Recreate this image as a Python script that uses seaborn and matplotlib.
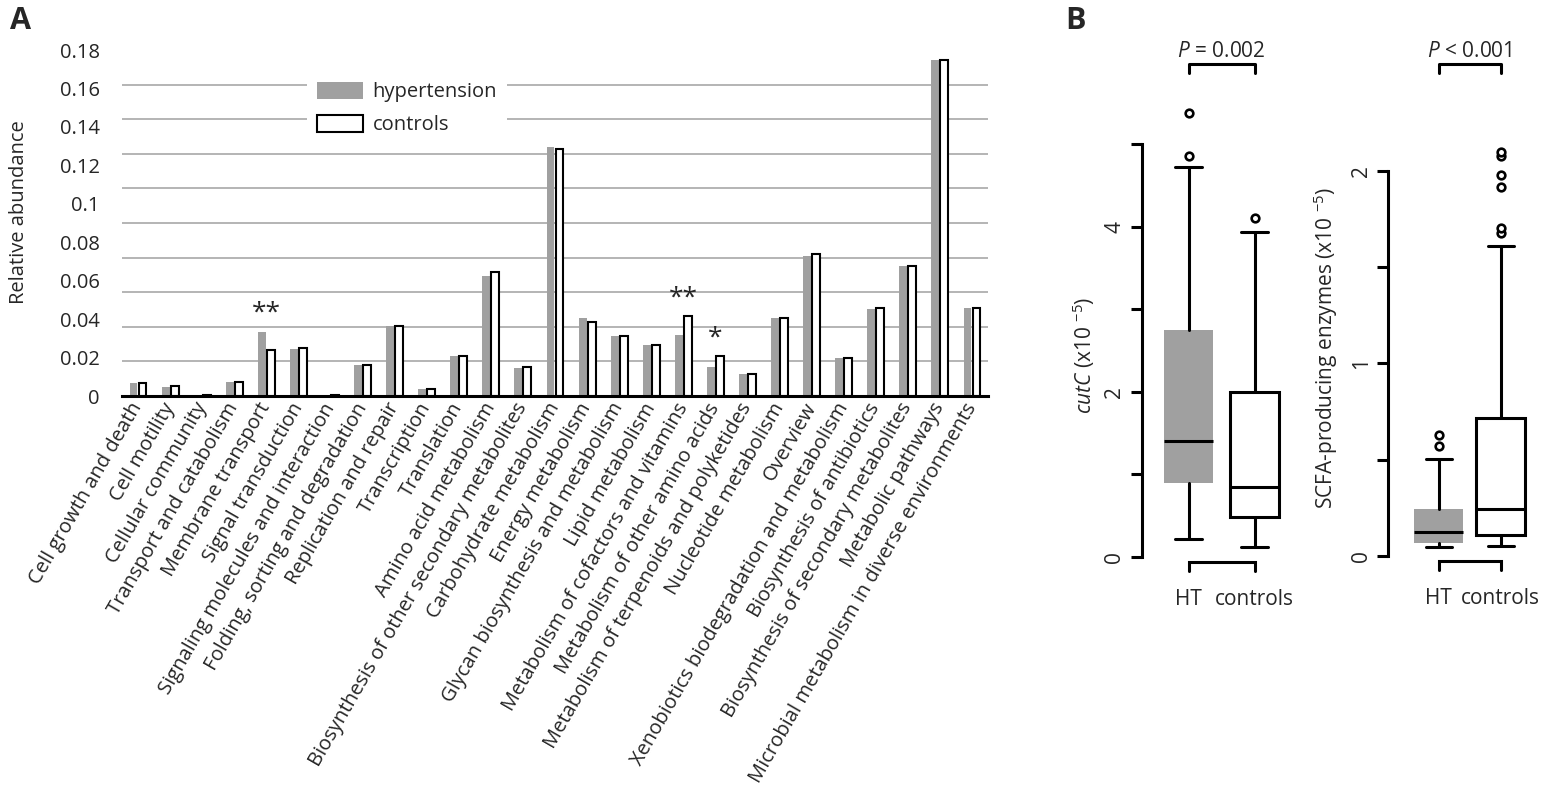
import numpy as np
import pandas as pd
import matplotlib
matplotlib.use('Agg')
import matplotlib.pyplot as plt
from matplotlib.patches import Patch
import seaborn as sns

# ---- data: panel A (KEGG level-2 pathways, relative abundance)
pathways = ['Cell growth and death', 'Cell motility', 'Cellular community',
            'Transport and catabolism', 'Membrane transport', 'Signal transduction',
            'Signaling molecules and interaction', 'Folding, sorting and degradation',
            'Replication and repair', 'Transcription', 'Translation',
            'Amino acid metabolism', 'Biosynthesis of other secondary metabolites',
            'Carbohydrate metabolism', 'Energy metabolism',
            'Glycan biosynthesis and metabolism', 'Lipid metabolism',
            'Metabolism of cofactors and vitamins', 'Metabolism of other amino acids',
            'Metabolism of terpenoids and polyketides', 'Nucleotide metabolism',
            'Overview', 'Xenobiotics biodegradation and metabolism',
            'Biosynthesis of antibiotics', 'Biosynthesis of secondary metabolites',
            'Metabolic pathways', 'Microbial metabolism in diverse environments']
hypertension = [0.0066, 0.0045, 0.0003, 0.0073, 0.0335, 0.0247, 0.0003, 0.0159,
                0.0362, 0.0035, 0.0206, 0.0624, 0.0146, 0.1296, 0.0404, 0.0314,
                0.0263, 0.0319, 0.0153, 0.0113, 0.0404, 0.0727, 0.0199, 0.0453,
                0.0674, 0.1748, 0.0456]
controls = [0.0070, 0.0052, 0.0003, 0.0075, 0.0239, 0.0248, 0.0003, 0.0159,
            0.0362, 0.0037, 0.0206, 0.0645, 0.0152, 0.1284, 0.0387, 0.0310,
            0.0267, 0.0416, 0.0207, 0.0113, 0.0404, 0.0737, 0.0199, 0.0456,
            0.0678, 0.1748, 0.0456]
signif_pathways = ['Membrane transport', 'Metabolism of cofactors and vitamins',
                   'Metabolism of other amino acids']
signif_marks = ['**', '**', '*']

# ---- data: panel B (box summaries, x10^-5)
box_groups = ['HT', 'controls']
cutc_stats = [
    dict(whislo=0.214, q1=0.897, med=1.405, q3=2.746, whishi=4.725, fliers=[4.855, 5.38]),
    dict(whislo=0.121, q1=0.48, med=0.848, q3=1.991, whishi=3.93, fliers=[4.10]),
]
scfa_stats = [
    dict(whislo=0.045, q1=0.066, med=0.123, q3=0.244, whishi=0.502, fliers=[0.573, 0.628]),
    dict(whislo=0.052, q1=0.109, med=0.244, q3=0.715, whishi=1.609,
         fliers=[1.678, 1.70, 1.917, 1.978, 2.076, 2.099]),
]
cutc_p = 'P = 0.002'
scfa_p = 'P < 0.001'

GRAY = '#a0a0a0'
GRID = '#a8a8a8'
FS = 14.5

sns.set_style('white')
plt.rcParams['font.family'] = ['Open Sans', 'DejaVu Sans']
plt.rcParams['mathtext.fontset'] = 'custom'
plt.rcParams['mathtext.rm'] = 'Open Sans'
plt.rcParams['mathtext.it'] = 'Open Sans:italic'

W, H = 1547, 798
fig = plt.figure(figsize=(W / 100, H / 100), dpi=100)


def rect(x0, y0, x1, y1):
    # pixel box -> figure fraction
    return [x0 / W, 1 - y1 / H, (x1 - x0) / W, (y1 - y0) / H]


# ================= Panel A
axA = fig.add_axes(rect(122, 50, 988, 396))
n = len(pathways)
df = pd.DataFrame({'pathway': pathways * 2,
                   'group': ['hypertension'] * n + ['controls'] * n,
                   'value': hypertension + controls})
sns.barplot(data=df, x='pathway', y='value', hue='group', order=pathways,
            hue_order=['hypertension', 'controls'],
            palette={'hypertension': GRAY, 'controls': 'white'},
            width=0.56, gap=0.12, errorbar=None, legend=False, ax=axA, zorder=3)
for bar in axA.containers[0]:
    bar.set_linewidth(0)
for bar in axA.containers[1]:
    bar.set_edgecolor('black')
    bar.set_linewidth(1.5)

axA.set_xlim(-0.5, n - 0.5)
axA.set_ylim(0, 0.18)
axA.set_yticks(np.arange(0, 0.181, 0.02))
axA.set_yticklabels(['0', '0.02', '0.04', '0.06', '0.08', '0.1', '0.12', '0.14', '0.16', '0.18'])
axA.set_yticks(np.linspace(0, 0.18, 11), minor=True)
axA.grid(False)
axA.grid(True, which='minor', axis='y', color=GRID, lw=1.2, zorder=0)
axA.tick_params(axis='y', which='both', length=0, pad=16, labelsize=FS)
axA.tick_params(axis='x', length=0, pad=6, labelsize=FS)
axA.set_xticks(range(n))
axA.set_xticklabels(pathways, rotation=60, ha='right', va='center',
                    rotation_mode='anchor')
for s in ['top', 'right', 'left']:
    axA.spines[s].set_visible(False)
axA.spines['bottom'].set_color('black')
axA.spines['bottom'].set_linewidth(2.2)
axA.spines['bottom'].set_zorder(4)
axA.set_xlabel('')
axA.set_ylabel('Relative abundance', fontsize=FS)
axA.yaxis.set_label_coords(-0.107, 0.53)

for name, mark in zip(signif_pathways, signif_marks):
    i = pathways.index(name)
    top = max(hypertension[i], controls[i])
    axA.text(i, top + 0.003, mark, ha='center', va='bottom', fontsize=19, zorder=5)

handles = [Patch(facecolor=GRAY, edgecolor='none', label='hypertension'),
           Patch(facecolor='white', edgecolor='black', linewidth=1.5, label='controls')]
leg = axA.legend(handles=handles, loc='upper left', bbox_to_anchor=(307 / W, 1 - 72 / H),
                 bbox_transform=fig.transFigure, frameon=True, facecolor='white',
                 edgecolor='none', fancybox=False, framealpha=1, fontsize=FS,
                 handlelength=2.3, handleheight=0.92, handletextpad=0.45,
                 labelspacing=0.6, borderpad=0.5, borderaxespad=0)
leg.set_zorder(6)

# ================= Panel B


def box_panel(ax, stats, width, capw, ylabel, top_val, step_px):
    bp = ax.bxp(stats, positions=[0, 1], widths=width, patch_artist=True,
                capwidths=capw,
                boxprops=dict(linewidth=2.2),
                whiskerprops=dict(color='black', linewidth=2.2),
                capprops=dict(color='black', linewidth=2.2),
                medianprops=dict(color='black', linewidth=2.2),
                flierprops=dict(marker='o', markersize=5.5, markerfacecolor='white',
                                markeredgecolor='black', markeredgewidth=1.9))
    bp['boxes'][0].set(facecolor=GRAY, edgecolor=GRAY, linewidth=0)
    bp['boxes'][1].set(facecolor='white', edgecolor='black')
    for art in ax.get_children():
        art.set_clip_on(False)
    for s in ['top', 'right', 'bottom']:
        ax.spines[s].set_visible(False)
    ax.spines['left'].set_linewidth(2.2)
    ax.spines['left'].set_color('black')
    ax.spines['left'].set_bounds(0, top_val)
    ax.set_xticks([0, 1])
    ax.set_xticklabels(box_groups)
    ax.tick_params(axis='x', length=0, pad=23, labelsize=15)
    ax.tick_params(axis='y', length=8, width=2.2, color='black', pad=4,
                   labelsize=15, labelrotation=90, direction='out', left=True)
    for lab in ax.get_yticklabels():
        lab.set_va('center')
    ax.set_ylabel(ylabel, fontsize=15, labelpad=6)
    # bottom bracket, step_px converts pixels to data units
    lo_h = -5 * step_px
    lo_l = -14 * step_px
    ax.plot([0, 0, 1, 1], [lo_l, lo_h, lo_h, lo_l], color='black', lw=2.2,
            clip_on=False, solid_joinstyle='miter')


axB1 = fig.add_axes(rect(1141.7, 40, 1294.3, 556.7))
axB1.set_xlim(-0.712, 1.6)
axB1.set_ylim(0, 516.7 / 82.5)
box_panel(axB1, cutc_stats, 0.74, 0.41, '$\\it{cutC}$ (x10 $^{-5}$)', 5, 1 / 82.5)
axB1.set_yticks([0, 1, 2, 3, 4, 5])
axB1.set_yticklabels(['0', '', '2', '', '4', ''])
axB1.plot([0, 0, 1, 1], [5.859, 5.972, 5.972, 5.859], color='black', lw=2.2,
          clip_on=False)
axB1.text(0.5, 6.12, '$\\it{P}$' + cutc_p[1:], ha='center', va='center', fontsize=15)

axB2 = fig.add_axes(rect(1388.3, 40, 1547, 556))
axB2.set_xlim(-0.815, 1.745)
axB2.set_ylim(0, 516 / 192.7)
box_panel(axB2, scfa_stats, 0.79, 0.41, 'SCFA-producing enzymes (x10 $^{-5}$)', 2, 1 / 192.7)
axB2.set_yticks([0, 0.5, 1, 1.5, 2])
axB2.set_yticklabels(['0', '', '1', '', '2'])
axB2.plot([0, 0, 1, 1], [2.505, 2.553, 2.553, 2.505], color='black', lw=2.2,
          clip_on=False)
axB2.text(0.5, 2.617, '$\\it{P}$' + scfa_p[1:], ha='center', va='center', fontsize=15)

axB1.yaxis.set_label_coords((1097 - 1141.7) / 152.6, 0.39)
axB2.yaxis.set_label_coords((1340 - 1388.3) / 158.7, 0.403)

fig.text(21 / W, 1 - 21 / H, 'A', fontsize=22, fontweight='bold', ha='center', va='center')
fig.text(1075 / W, 1 - 21 / H, 'B', fontsize=22, fontweight='bold', ha='center', va='center')

fig.savefig('out.png', dpi=100)
